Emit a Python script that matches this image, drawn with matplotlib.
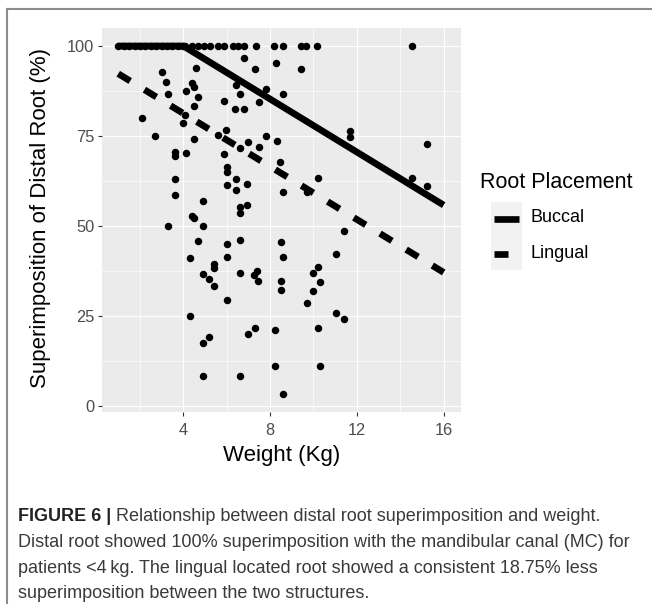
import matplotlib
matplotlib.use('Agg')
import matplotlib.pyplot as plt
from matplotlib import font_manager
from matplotlib.lines import Line2D
from matplotlib.patches import Rectangle

# ---------------- data ----------------
weight = [
    # points on the 100 % row
    1.0, 1.25, 1.5, 1.75, 2.0, 2.25, 2.5, 2.75, 3.0, 3.25, 3.5, 3.75, 4.0,
    4.07, 4.4, 4.68, 4.93, 5.24, 5.62, 5.88, 6.31, 6.54, 6.8, 7.35, 8.2,
    8.61, 9.41, 9.66, 10.18, 14.54,
    # remaining points
    6.81, 8.27, 3.0, 4.57, 7.31, 9.43, 3.2, 4.42, 4.51, 3.28, 4.11, 4.69,
    6.42, 6.62, 7.8, 7.51, 5.89, 4.51, 6.39, 6.8, 8.61, 2.08, 4.08, 4.0,
    2.69, 4.51, 5.62, 5.95, 7.0, 6.62, 7.51, 7.8, 8.3, 3.62, 3.62, 4.11,
    5.89, 6.0, 6.0, 8.47, 3.62, 6.43, 6.0, 6.42, 6.93, 3.62, 4.92, 6.62,
    6.93, 6.62, 4.42, 4.51, 3.31, 4.9, 4.69, 6.0, 6.62, 8.49, 4.31, 6.0,
    5.42, 5.42, 4.9, 5.2, 5.42, 6.62, 7.39, 7.28, 7.42, 8.49, 8.49, 6.0,
    4.31, 7.31, 7.0, 5.2, 4.9, 8.21, 8.21, 4.9, 6.62,
    8.61, 10.23, 9.7, 11.69, 11.69, 15.23, 14.54, 15.23, 11.42, 8.61, 11.02,
    10.23, 10.0, 10.31, 10.0, 9.69, 11.02, 11.42, 10.23, 10.31, 8.61,
]
superimposition = [
    100, 100, 100, 100, 100, 100, 100, 100, 100, 100, 100, 100, 100,
    100, 100, 100, 100, 100, 100, 100, 100, 100, 100, 100, 100,
    100, 100, 100, 100, 100,
    96.6, 95.4, 92.9, 93.8, 93.5, 93.5, 90.1, 89.8, 88.7, 86.7, 87.5, 85.7,
    89.3, 86.7, 88.0, 84.5, 84.8, 83.2, 82.4, 82.4, 86.7, 80.1, 80.7, 78.7,
    75.1, 74.3, 75.2, 76.7, 73.4, 71.6, 72.0, 75.0, 73.7, 70.6, 69.4, 70.2,
    70.0, 66.5, 65.1, 67.9, 63.0, 63.1, 61.4, 60.0, 61.8, 58.6, 57.0, 55.4,
    55.8, 53.7, 52.8, 52.3, 50.1, 50.1, 45.8, 45.1, 46.1, 45.5, 41.2, 41.5,
    39.4, 38.2, 36.6, 35.3, 33.3, 36.9, 37.6, 36.4, 34.8, 34.8, 32.3, 29.4,
    25.0, 21.8, 19.9, 19.1, 17.4, 21.1, 11.2, 8.4, 8.4,
    59.5, 63.4, 59.5, 76.4, 74.8, 72.8, 63.2, 61.2, 48.6, 41.5, 42.1,
    38.5, 36.9, 34.5, 32.0, 28.7, 25.7, 24.3, 21.8, 11.2, 3.2,
]

buccal_x = [1, 4, 16]
buccal_y = [100, 100, 55.8]
lingual_x = [1, 16]
lingual_y = [92.3, 37.1]

x_ticks = [4, 8, 12, 16]
x_minor = [2, 6, 10, 14]
y_ticks = [0, 25, 50, 75, 100]
y_minor = [12.5, 37.5, 62.5, 87.5]

legend_title = "Root Placement"
legend_labels = ["Buccal", "Lingual"]
x_title = "Weight (Kg)"
y_title = "Superimposition of Distal Root (%)"
caption_bold = "FIGURE 6 |"
caption_lines = [
    " Relationship between distal root superimposition and weight.",
    "Distal root showed 100% superimposition with the mandibular canal (MC) for",
    "patients <4\u2009kg. The lingual located root showed a consistent 18.75% less",
    "superimposition between the two structures.",
]

# ---------------- figure ----------------
plt.rcParams['font.family'] = ['Liberation Sans', 'DejaVu Sans']
W, H = 652, 604
fig = plt.figure(figsize=(W / 100, H / 100), dpi=100)
fig.patch.set_facecolor('white')


def fx(px):
    return px / W


def fy(py):
    return 1 - py / H


LW = 4.8  # pt
DASH = (0, (2.1, 2.5))

ax = fig.add_axes([fx(102), fy(412), (461 - 102) / W, (412 - 28) / H])
ax.set_facecolor('#EBEBEB')
ax.set_xlim(0.25, 16.8)
ax.set_ylim(-1.67, 105.0)
for s in ax.spines.values():
    s.set_visible(False)
ax.set_xticks(x_ticks)
ax.set_xticks(x_minor, minor=True)
ax.set_yticks(y_ticks)
ax.set_yticks(y_minor, minor=True)
ax.set_xticklabels([str(v) for v in x_ticks])
ax.set_yticklabels([str(v) for v in y_ticks])
ax.grid(which='major', color='white', lw=0.85)
ax.grid(which='minor', color='white', lw=0.45)
ax.set_axisbelow(True)
ax.tick_params(which='minor', length=0)
ax.tick_params(which='major', length=3.0, width=0.8, color='#333333',
               labelcolor='#4D4D4D', labelsize=11.8)
ax.tick_params(axis='x', pad=5)
ax.tick_params(axis='y', pad=2.5)

ax.scatter(weight, superimposition, s=29, c='black', linewidths=0, zorder=3)
ax.plot(buccal_x, buccal_y, color='black', lw=LW, solid_capstyle='butt',
        solid_joinstyle='miter', zorder=4)
ax.plot(lingual_x, lingual_y, color='black', lw=LW, linestyle=DASH,
        dash_capstyle='butt', zorder=4)

# axis titles
fig.text(fx(41), fy(218), y_title, rotation=90, ha='center', va='center',
         fontsize=16, color='black')
fig.text(fx(282), fy(455), x_title, ha='center', va='center',
         fontsize=16, color='black')

# legend
fig.text(fx(480), fy(182), legend_title, ha='left', va='center',
         fontsize=15.5, color='black')
fig.add_artist(Rectangle((fx(490.7), fy(270)), 31 / W, (270 - 201.7) / H,
                         transform=fig.transFigure, facecolor='#F2F2F2',
                         edgecolor='none'))
fig.add_artist(Line2D([fx(494), fx(519)], [fy(219), fy(219)], lw=LW,
                      color='black', solid_capstyle='butt',
                      transform=fig.transFigure))
fig.add_artist(Line2D([fx(494), fx(519)], [fy(254), fy(254)], lw=LW,
                      color='black', linestyle=DASH, dash_capstyle='butt',
                      transform=fig.transFigure))
fig.text(fx(530), fy(218), legend_labels[0], ha='left', va='center',
         fontsize=13, color='black')
fig.text(fx(530), fy(253), legend_labels[1], ha='left', va='center',
         fontsize=13, color='black')

# border
border_col = '#8C8C8C'
fig.add_artist(Line2D([fx(7), 1.0], [fy(9), fy(9)], lw=1.5, color=border_col,
                      transform=fig.transFigure))
fig.add_artist(Line2D([fx(7), fx(7)], [fy(9), 0.0], lw=1.5, color=border_col,
                      transform=fig.transFigure))

# caption
names = {f.name for f in font_manager.fontManager.ttflist}
cap_family = ['Liberation Sans Narrow', 'Liberation Sans', 'DejaVu Sans'] \
    if 'Liberation Sans Narrow' in names else ['Liberation Sans', 'DejaVu Sans']
renderer = fig.canvas.get_renderer()
probe = fig.text(0, 0, caption_lines[1], fontsize=15, family=cap_family)
w = probe.get_window_extent(renderer).width
probe.remove()
cap_fs = 15 * 614.0 / w
cap_fs = min(cap_fs, 15.5)

baselines = [521, 547, 573, 598]
bold_t = fig.text(fx(18), fy(baselines[0]), caption_bold, ha='left',
                  va='baseline', fontsize=cap_fs, family=cap_family,
                  weight='bold', color='#222222')
bw = bold_t.get_window_extent(renderer).width
fig.text(fx(18 + bw), fy(baselines[0]), caption_lines[0], ha='left',
         va='baseline', fontsize=cap_fs, family=cap_family, color='#3A3A3A')
for line, b in zip(caption_lines[1:], baselines[1:]):
    fig.text(fx(18), fy(b), line, ha='left', va='baseline', fontsize=cap_fs,
             family=cap_family, color='#3A3A3A')

fig.savefig('out.png', dpi=100, facecolor='white')
